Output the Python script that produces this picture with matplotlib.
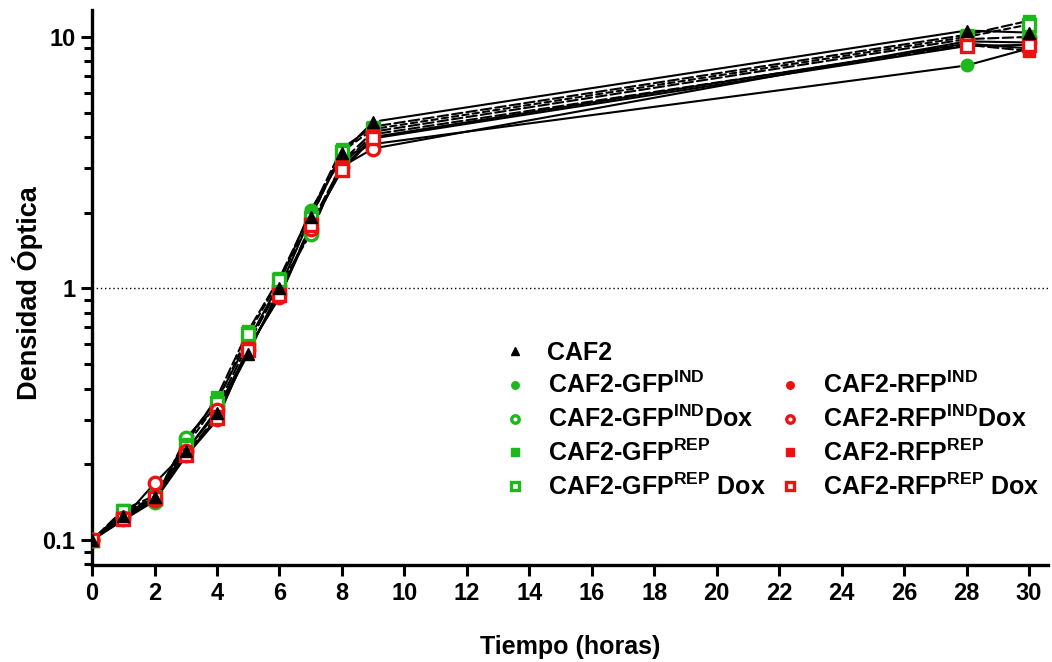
import matplotlib
matplotlib.use("Agg")
import matplotlib.pyplot as plt
from matplotlib.lines import Line2D
from matplotlib.ticker import LogLocator, NullFormatter, FixedLocator, FixedFormatter

plt.rcParams['font.family'] = ['Liberation Sans', 'DejaVu Sans']
plt.rcParams['font.weight'] = 'bold'
plt.rcParams['mathtext.fontset'] = 'custom'
plt.rcParams['mathtext.rm'] = 'Liberation Sans'

# hours
tiempo = [0, 1, 2, 3, 4, 5, 6, 7, 8, 9, 28, 30]

caf2 = [0.1, 0.125, 0.148, 0.227, 0.32, 0.55, 1.0, 1.92, 3.45, 4.6, 10.6, 10.4]
gfp_ind = [0.1, 0.128, 0.145, 0.25, 0.36, 0.62, 1.05, 2.05, 3.3, 3.75, 7.7, 9.0]
gfp_ind_dox = [0.1, 0.126, 0.142, 0.255, 0.34, 0.60, 1.02, 1.65, 3.2, 4.2, 9.8, 10.0]
gfp_rep = [0.1, 0.132, 0.150, 0.24, 0.37, 0.68, 1.10, 2.0, 3.6, 4.4, 10.2, 11.6]
gfp_rep_dox = [0.1, 0.130, 0.147, 0.235, 0.35, 0.66, 1.08, 1.9, 3.5, 4.3, 10.0, 11.2]
rfp_ind = [0.1, 0.120, 0.143, 0.215, 0.30, 0.58, 0.92, 1.75, 3.0, 4.0, 9.4, 9.0]
rfp_ind_dox = [0.1, 0.122, 0.168, 0.225, 0.33, 0.57, 0.95, 1.72, 3.05, 3.6, 9.6, 9.5]
rfp_rep = [0.1, 0.122, 0.145, 0.22, 0.31, 0.58, 0.93, 1.80, 3.1, 4.1, 9.3, 8.8]
rfp_rep_dox = [0.1, 0.121, 0.147, 0.218, 0.305, 0.57, 0.94, 1.78, 2.95, 3.95, 9.2, 9.3]

GREEN = '#1cb81c'
RED = '#ee1111'

# (label, values, color, marker, filled, linestyle)
series = [
    (r'CAF2-GFP$^{\mathrm{IND}}$', gfp_ind, GREEN, 'o', True, '-'),
    (r'CAF2-GFP$^{\mathrm{IND}}$Dox', gfp_ind_dox, GREEN, 'o', False, (0, (5, 2))),
    (r'CAF2-GFP$^{\mathrm{REP}}$', gfp_rep, GREEN, 's', True, (0, (5, 2))),
    (r'CAF2-GFP$^{\mathrm{REP}}$ Dox', gfp_rep_dox, GREEN, 's', False, (0, (3, 2))),
    (r'CAF2-RFP$^{\mathrm{IND}}$', rfp_ind, RED, 'o', True, '-'),
    (r'CAF2-RFP$^{\mathrm{IND}}$Dox', rfp_ind_dox, RED, 'o', False, '-'),
    (r'CAF2-RFP$^{\mathrm{REP}}$', rfp_rep, RED, 's', True, (0, (5, 2))),
    (r'CAF2-RFP$^{\mathrm{REP}}$ Dox', rfp_rep_dox, RED, 's', False, '-'),
    ('CAF2', caf2, 'black', '^', True, '-'),
]

fig = plt.figure(figsize=(10.52, 6.62), dpi=100)
ax = fig.add_axes([0.0875, 0.1465, 0.9085, 0.8385])
ax.set_yscale('log')
ax.set_xlim(0, 30.6)
ax.set_ylim(0.0796, 12.8)

ax.axhline(1, color='black', lw=1, ls=(0, (1, 2)), zorder=1)

# connecting lines, shortened so they stop short of the symbols
for label, vals, color, marker, filled, ls in series:
    for i in range(len(tiempo) - 1):
        ax.annotate('', xy=(tiempo[i + 1], vals[i + 1]), xytext=(tiempo[i], vals[i]),
                    arrowprops=dict(arrowstyle='-', color='black', lw=1.5, linestyle=ls,
                                    shrinkA=5, shrinkB=5), zorder=2)

handles = {}
for z, (label, vals, color, marker, filled, ls) in enumerate(series):
    fc = color if filled else 'white'
    h, = ax.plot(tiempo, vals, ls='none', marker=marker, ms=9, mfc=fc, mec=color,
                 mew=2.4 if not filled else 1, zorder=3 + z)
    handles[label] = h

blank = Line2D([], [], ls='none', marker='')
order = ['CAF2',
         r'CAF2-GFP$^{\mathrm{IND}}$', r'CAF2-GFP$^{\mathrm{IND}}$Dox',
         r'CAF2-GFP$^{\mathrm{REP}}$', r'CAF2-GFP$^{\mathrm{REP}}$ Dox',
         None,
         r'CAF2-RFP$^{\mathrm{IND}}$', r'CAF2-RFP$^{\mathrm{IND}}$Dox',
         r'CAF2-RFP$^{\mathrm{REP}}$', r'CAF2-RFP$^{\mathrm{REP}}$ Dox']
leg_h = [handles[k] if k else blank for k in order]
leg_l = [k if k else '' for k in order]
ax.legend(leg_h, leg_l, ncol=2, frameon=False, loc='upper left',
          bbox_to_anchor=(480 / 1052, 1 - 318 / 662), bbox_transform=fig.transFigure,
          prop={'size': 18, 'weight': 'bold'}, markerscale=0.6, handlelength=1.0,
          handletextpad=0.8, labelspacing=0.3, columnspacing=0.5, borderpad=0.4)

ax.spines['top'].set_visible(False)
ax.spines['right'].set_visible(False)
for s in ('left', 'bottom'):
    ax.spines[s].set_linewidth(2.4)

ax.xaxis.set_major_locator(FixedLocator(list(range(0, 31, 2))))
ax.yaxis.set_major_locator(FixedLocator([0.1, 1, 10]))
ax.yaxis.set_major_formatter(FixedFormatter(['0.1', '1', '10']))
ax.yaxis.set_minor_locator(LogLocator(base=10, subs=range(2, 10)))
ax.yaxis.set_minor_formatter(NullFormatter())
ax.tick_params(axis='both', which='major', direction='out', length=8, width=2.2,
               labelsize=17, pad=4)
ax.tick_params(axis='y', which='minor', direction='out', length=6, width=2.2)
for t in ax.get_xticklabels() + ax.get_yticklabels():
    t.set_fontweight('bold')

ax.set_xlabel('Tiempo (horas)', fontsize=18, fontweight='bold', labelpad=22)
ax.set_ylabel('Densidad Óptica', fontsize=19.5, fontweight='bold')
ax.yaxis.set_label_coords(-0.0513, 0.49)

fig.savefig('out.png', dpi=100)
